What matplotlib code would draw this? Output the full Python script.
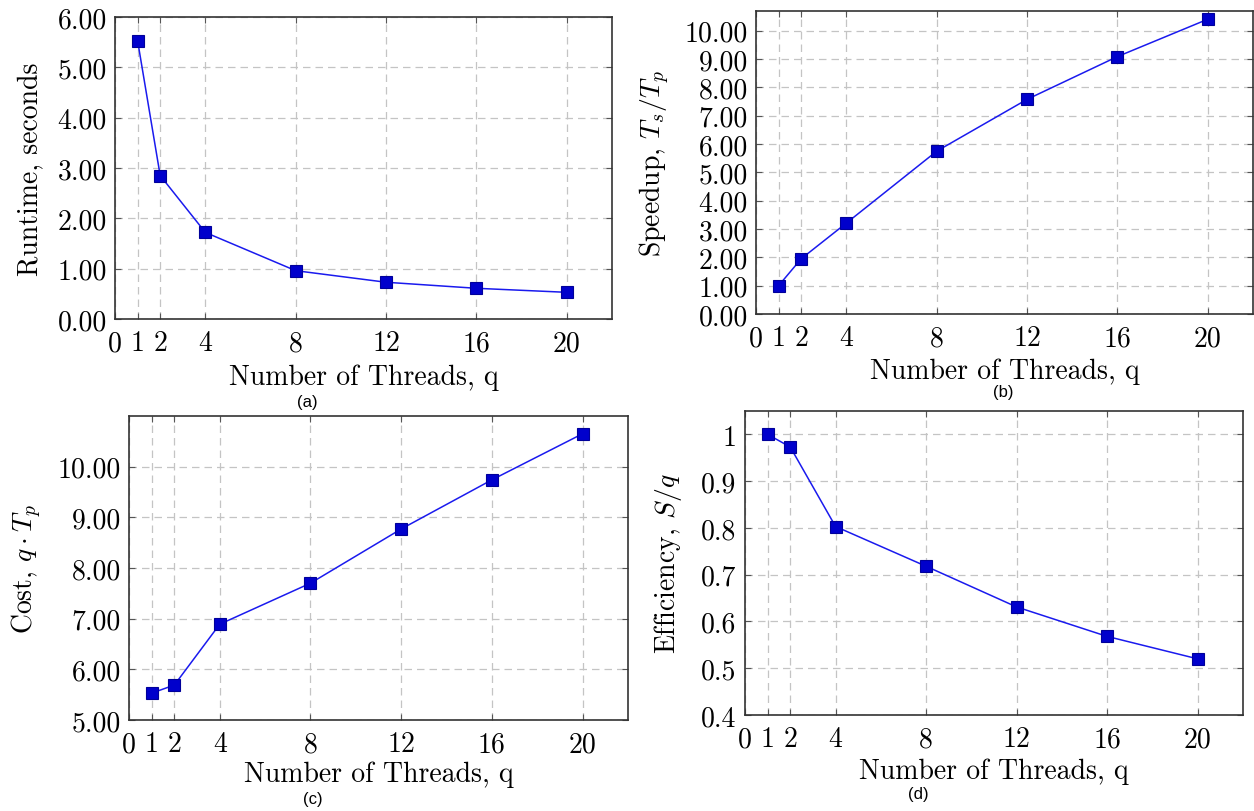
import matplotlib
matplotlib.use('Agg')
import matplotlib.pyplot as plt

plt.rcParams['font.family'] = 'serif'
plt.rcParams['font.serif'] = ['cmr10', 'DejaVu Serif']
plt.rcParams['mathtext.fontset'] = 'cm'
plt.rcParams['axes.unicode_minus'] = False

# data
threads = [1, 2, 4, 8, 12, 16, 20]
runtime = [5.53, 2.85, 1.72, 0.96, 0.73, 0.61, 0.53]
speedup = [1.00, 1.95, 3.21, 5.75, 7.58, 9.09, 10.41]
cost = [5.53, 5.69, 6.89, 7.70, 8.77, 9.74, 10.65]
efficiency = [1.00, 0.973, 0.803, 0.718, 0.631, 0.568, 0.520]

xticks = [0, 1, 2, 4, 8, 12, 16, 20]
yticks_a = [0, 1, 2, 3, 4, 5, 6]
yticks_b = [0, 1, 2, 3, 4, 5, 6, 7, 8, 9, 10]
yticks_c = [5, 6, 7, 8, 9, 10]
yticks_d = [0.4, 0.5, 0.6, 0.7, 0.8, 0.9, 1.0]
ylabels_d = ['0.4', '0.5', '0.6', '0.7', '0.8', '0.9', '1']

W, H = 1254, 812
fig = plt.figure(figsize=(W / 100, H / 100), dpi=100)

# (left, right, top, bottom) in pixels
boxes = {
    'a': (115, 612, 18, 320),
    'b': (756, 1253, 12, 315),
    'c': (129, 628, 417, 721),
    'd': (745, 1243, 412, 716),
}


def panel(key, ys, yt, ylab, ymin, ymax, ylab_x, xlab_y, ytl=None):
    l, r, t, b = boxes[key]
    ax = fig.add_axes([l / W, 1 - b / H, (r - l) / W, (b - t) / H])
    ax.plot(threads, ys, color='#1a1aee', linewidth=1.1,
            marker='s', markersize=8, markerfacecolor='#0000cc',
            markeredgecolor='#00009a', markeredgewidth=0.8, zorder=3)
    ax.set_xlim(0, 22)
    ax.set_ylim(ymin, ymax)
    ax.set_xticks(xticks)
    ax.set_xticklabels([str(v) for v in xticks])
    ax.set_yticks(yt)
    if ytl is None:
        ytl = [f'{v:.2f}' for v in yt]
    ax.set_yticklabels(ytl)
    ax.grid(True, color='#c4c4c4', linestyle=(0, (6, 4)), linewidth=0.9)
    ax.set_axisbelow(True)
    ax.tick_params(direction='in', length=4, width=0.8, color='#555555',
                   labelsize=20, top=True, right=True, pad=6)
    ax.tick_params(axis='x', pad=8)
    for s in ax.spines.values():
        s.set_color('#333333')
        s.set_linewidth(1.2)
    ax.set_xlabel('Number of Threads, q', fontsize=20)
    ax.set_ylabel(ylab, fontsize=20)
    ax.yaxis.set_label_coords((ylab_x - l) / (r - l), 0.5)
    ax.xaxis.set_label_coords(0.5, -(xlab_y - b) / (b - t))
    ax.xaxis.label.set_va('center')
    ax.yaxis.label.set_va('center')
    return ax


ax_a = panel('a', runtime, yticks_a, 'Runtime, seconds', 0, 6, 30, 378)
ax_b = panel('b', speedup, yticks_b, r'Speedup, $T_s/T_p$', 0, 10.7, 655, 372)
ax_c = panel('c', cost, yticks_c, r'Cost, $q\cdot T_p$', 5, 11, 27, 775)
ax_d = panel('d', efficiency, yticks_d, r'Efficiency, $S/q$', 0.4, 1.05, 668, 772, ylabels_d)

# sub-figure captions
captions = [('(a)', 307, 403), ('(b)', 1003, 393), ('(c)', 313, 800), ('(d)', 918, 795)]
for txt, x, y in captions:
    fig.text(x / W, 1 - y / H, txt, ha='center', va='center',
             fontsize=12, family=['Liberation Sans', 'DejaVu Sans'])

fig.savefig('out.png', dpi=100)
